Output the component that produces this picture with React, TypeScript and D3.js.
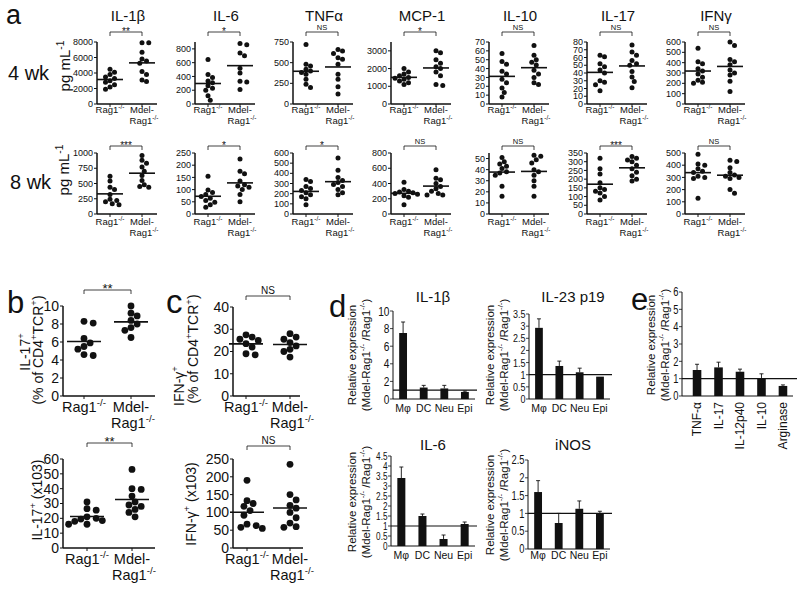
import React from "react";
import * as d3 from "d3";

const FONT = "'Liberation Sans', Arial, Helvetica, sans-serif";
const INK = "#111";

// ---- panel a : serum cytokines, 4 wk and 8 wk ----
const cytokines = ["IL-1β", "IL-6", "TNFα", "MCP-1", "IL-10", "IL-17", "IFNγ"];
const groups = ["Rag1", "Mdel"];

const rag4wk = [
  [4500, 4100, 3800, 3500, 3300, 3000, 2800, 2500, 2200, 1900],
  [646, 430, 385, 335, 310, 265, 230, 200, 120, 55],
  [720, 480, 460, 420, 400, 380, 360, 300, 240, 200],
  [2000, 1800, 1700, 1600, 1500, 1450, 1400, 1300, 1200, 1100],
  [57, 48, 45, 37, 34, 28, 24, 18, 13, 8],
  [63, 61, 52, 48, 44, 40, 30, 28, 25, 17],
  [540, 410, 390, 340, 320, 290, 260, 230, 210, 200],
];
const mdel4wk = [
  [7900, 7900, 6670, 5800, 5550, 5250, 4200, 3800, 3100, 2900],
  [880, 860, 740, 700, 520, 450, 330, 320, 210],
  [660, 640, 610, 560, 540, 480, 360, 300, 210, 120],
  [3000, 2900, 2500, 2300, 2100, 2000, 1800, 1600, 1100, 1050],
  [66, 55, 50, 47, 44, 38, 34, 30, 24, 22],
  [76, 67, 63, 56, 52, 50, 42, 35, 29, 21],
  [600, 565, 430, 410, 380, 330, 300, 280, 220, 120],
];
const rag8wk = [
  [620, 540, 440, 400, 320, 240, 220, 200, 170, 150],
  [155, 98, 88, 80, 72, 65, 55, 48, 38, 28],
  [340, 320, 270, 250, 230, 210, 190, 170, 150, 90],
  [415, 320, 300, 290, 280, 270, 260, 240, 220, 120],
  [51, 47, 45, 43, 41, 38, 37, 35, 25, 16],
  [320, 260, 230, 180, 150, 140, 130, 120, 100, 80],
  [490, 410, 400, 370, 350, 340, 310, 300, 290, 130],
];
const mdel8wk = [
  [960, 880, 830, 770, 700, 630, 550, 480, 450, 440],
  [225, 175, 165, 135, 120, 115, 110, 100, 80, 50],
  [550, 430, 360, 330, 310, 290, 270, 240, 210, 190],
  [580, 470, 450, 400, 360, 330, 300, 270, 250, 250],
  [53, 52, 49, 46, 40, 38, 35, 30, 25, 16],
  [330, 320, 310, 300, 280, 260, 240, 220, 200, 190],
  [440, 430, 380, 340, 320, 310, 300, 290, 200, 170],
];
const max4wk = [8000, 900, 750, 3500, 70, 80, 600];
const max8wk = [1000, 250, 600, 800, 55, 350, 500];
const ticks4wk = [
  [0, 2000, 4000, 6000, 8000],
  [0, 200, 400, 600, 800],
  [0, 250, 500, 750],
  [0, 1000, 2000, 3000],
  [0, 10, 20, 30, 40, 50, 60, 70],
  [0, 10, 20, 30, 40, 50, 60, 70, 80],
  [0, 100, 200, 300, 400, 500, 600],
];
const ticks8wk = [
  [0, 250, 500, 750, 1000],
  [0, 50, 100, 150, 200, 250],
  [0, 100, 200, 300, 400, 500, 600],
  [0, 200, 400, 600, 800],
  [0, 10, 20, 30, 40, 50],
  [0, 50, 100, 150, 200, 250, 300, 350],
  [0, 100, 200, 300, 400, 500],
];
const sig4wk = ["**", "*", "NS", "*", "NS", "NS", "NS"];
const sig8wk = ["***", "*", "*", "NS", "NS", "***", "NS"];

// ---- panels b, c : lamina propria T cells ----
const il17PctRag = [8.3, 8.1, 6.4, 5.9, 5.5, 5.2, 4.6, 4.5];
const il17PctMdel = [10, 9.2, 8.9, 8.4, 8.0, 7.6, 7.3, 6.5];
const il17NumRag = [31, 26.5, 25.5, 21, 20, 19.5, 18.5, 18, 16, 16];
const il17NumMdel = [53, 40, 39.5, 35, 31, 29, 28, 26, 24, 21];
const ifnPctRag = [27.5, 26.5, 25.5, 25, 23.5, 22, 19, 18.5];
const ifnPctMdel = [28, 26.5, 25.5, 24, 22.5, 21, 20, 17.5];
const ifnNumRag = [190, 133, 125, 117, 105, 92, 67, 63, 58, 55];
const ifnNumMdel = [235, 150, 135, 120, 112, 100, 85, 70, 60, 58];

// ---- panel d : relative expression by cell type ----
const cellTypes = ["Mφ", "DC", "Neu", "Epi"];
const il1bRel = [7.5, 1.3, 1.2, 0.8];
const il1bErr = [1.25, 0.25, 0.35, 0.1];
const il23Rel = [2.93, 1.36, 1.1, 0.92];
const il23Err = [0.37, 0.2, 0.17, 0];
const il6Rel = [3.4, 1.5, 0.35, 1.1];
const il6Err = [0.55, 0.1, 0.2, 0.1];
const inosRel = [1.6, 0.73, 1.13, 1.0];
const inosErr = [0.32, 0.27, 0.22, 0.06];

// ---- panel e ----
const eGenes = ["TNF-α", "IL-17", "IL-12p40", "IL-10", "Arginase"];
const eRel = [1.5, 1.65, 1.4, 1.0, 0.58];
const eErr = [0.33, 0.3, 0.15, 0.28, 0.06];

// superscript helper: parts = [text, isSup]
function rich(parts: [string, boolean][], size: number) {
  let up = false;
  return parts.map(([t, s], i) => {
    const dy = s && !up ? -size * 0.4 : !s && up ? size * 0.4 : 0;
    up = s;
    return (
      <tspan key={i} dy={dy} fontSize={s ? size * 0.68 : size}>
        {t}
      </tspan>
    );
  });
}

const RAG: [string, boolean][] = [["Rag1", false], ["-/-", true]];
const RATIO: [string, boolean][] = [["(Mdel-Rag1", false], ["-/-", true], [" /Rag1", false], ["-/-", true], [")", false]];

function swarm(vals: number[], y: (v: number) => number, cx: number, r: number) {
  const pts = vals.map((v) => ({ v, py: y(v), px: cx }));
  const order = pts.slice().sort((a, b) => b.v - a.v);
  const placed: { px: number; py: number }[] = [];
  for (const p of order) {
    for (let k = 0; k < 40; k++) {
      const off = (k % 2 === 1 ? 1 : -1) * Math.ceil(k / 2) * r * 0.9;
      const px = cx + off;
      if (placed.every((q) => Math.hypot(q.px - px, q.py - p.py) >= 2 * r * 0.95)) {
        p.px = px;
        break;
      }
    }
    placed.push(p);
  }
  return pts;
}

type DotProps = {
  rag: number[];
  mdel: number[];
  axisX: number;
  cx: [number, number];
  axisEnd: number;
  y0: number;
  y1: number;
  max: number;
  ticks: number[];
  sig: string;
  bracketY: number;
  r: number;
  meanW: number;
  tickFont: number;
  labelFont: number;
  labelY: [number, number];
  starFont: number;
  nsFont: number;
  sw: number;
};

function DotPlot(p: DotProps) {
  const x = d3.scalePoint<string>().domain(groups).range(p.cx);
  const y = d3.scaleLinear().domain([0, p.max]).range([p.y0, p.y1]);
  const sets = [p.rag, p.mdel];
  const x0 = x("Rag1")!;
  const x1 = x("Mdel")!;
  const ns = p.sig === "NS";
  return (
    <g>
      <line x1={p.axisX} x2={p.axisX} y1={y(0)} y2={y(p.max)} stroke={INK} strokeWidth={p.sw} />
      <line x1={p.axisX} x2={p.axisEnd} y1={y(0)} y2={y(0)} stroke={INK} strokeWidth={p.sw} />
      {p.ticks.map((t) => (
        <g key={t}>
          <line x1={p.axisX - 3} x2={p.axisX} y1={y(t)} y2={y(t)} stroke={INK} strokeWidth={1} />
          <text x={p.axisX - 4} y={y(t)} dy="0.35em" textAnchor="end" fontSize={p.tickFont}>
            {t}
          </text>
        </g>
      ))}
      {groups.map((g) => (
        <line key={g} x1={x(g)} x2={x(g)} y1={y(0)} y2={y(0) + 3} stroke={INK} strokeWidth={1} />
      ))}
      <text x={x0} y={p.labelY[0]} textAnchor="middle" fontSize={p.labelFont}>
        {rich(RAG, p.labelFont)}
      </text>
      <text x={x1} y={p.labelY[0]} textAnchor="middle" fontSize={p.labelFont}>
        Mdel-
      </text>
      <text x={x1 + 2} y={p.labelY[1]} textAnchor="middle" fontSize={p.labelFont}>
        {rich(RAG, p.labelFont)}
      </text>
      <path
        d={`M${x0},${p.bracketY + 4}V${p.bracketY}H${x1}V${p.bracketY + 4}`}
        fill="none"
        stroke={INK}
        strokeWidth={0.8}
      />
      <text
        x={(x0 + x1) / 2}
        y={ns ? p.bracketY - 2 : p.bracketY + p.starFont * 0.25}
        textAnchor="middle"
        fontSize={ns ? p.nsFont : p.starFont}
      >
        {p.sig}
      </text>
      {sets.map((vals, gi) => {
        const cx = x(groups[gi])!;
        const m = d3.mean(vals)!;
        return (
          <g key={gi}>
            {swarm(vals, y, cx, p.r).map((d, i) => (
              <circle key={i} cx={d.px} cy={d.py} r={p.r} fill={INK} />
            ))}
            <line x1={cx - p.meanW / 2} x2={cx + p.meanW / 2} y1={y(m)} y2={y(m)} stroke={INK} strokeWidth={1.6} />
          </g>
        );
      })}
    </g>
  );
}

type BarProps = {
  cats: string[];
  vals: number[];
  errs: number[];
  range: [number, number];
  pIn: number;
  pOut: number;
  axisEnd: number;
  lineEnd: number;
  y0: number;
  y1: number;
  max: number;
  ticks: number[];
  tickFont: number;
  catFont: number;
  catY: number;
  rotate?: boolean;
};

function BarPlot(p: BarProps) {
  const x = d3.scaleBand<string>().domain(p.cats).range(p.range).paddingInner(p.pIn).paddingOuter(p.pOut);
  const y = d3.scaleLinear().domain([0, p.max]).range([p.y0, p.y1]);
  const ax = p.range[0];
  const bw = x.bandwidth();
  return (
    <g>
      {p.cats.map((c, i) => {
        const cx = x(c)! + bw / 2;
        const top = y(p.vals[i] + p.errs[i]);
        return (
          <g key={c}>
            <rect x={x(c)} y={y(p.vals[i])} width={bw} height={y(0) - y(p.vals[i])} fill={INK} />
            {p.errs[i] > 0 && (
              <>
                <line x1={cx} x2={cx} y1={y(p.vals[i])} y2={top} stroke={INK} strokeWidth={0.9} />
                <line x1={cx - 2} x2={cx + 2} y1={top} y2={top} stroke={INK} strokeWidth={0.9} />
              </>
            )}
            {p.rotate ? (
              <text
                transform={`translate(${cx + p.catFont * 0.36},${p.catY}) rotate(-90)`}
                textAnchor="end"
                fontSize={p.catFont}
              >
                {c}
              </text>
            ) : (
              <text x={cx} y={p.catY} textAnchor="middle" fontSize={p.catFont}>
                {c}
              </text>
            )}
          </g>
        );
      })}
      <line x1={ax} x2={ax} y1={y(0)} y2={y(p.max)} stroke={INK} strokeWidth={1} />
      <line x1={ax} x2={p.axisEnd} y1={y(0)} y2={y(0)} stroke={INK} strokeWidth={1} />
      <line x1={ax} x2={p.lineEnd} y1={y(1)} y2={y(1)} stroke={INK} strokeWidth={1.2} />
      {p.ticks.map((t) => (
        <g key={t}>
          <line x1={ax - 3} x2={ax} y1={y(t)} y2={y(t)} stroke={INK} strokeWidth={0.8} />
          {/* tick labels in the source are horizontally condensed */}
          <text
            transform={`translate(${ax - 3.5},${y(t)}) scale(0.78,1)`}
            dy="0.35em"
            textAnchor="end"
            fontSize={p.tickFont}
          >
            {t}
          </text>
        </g>
      ))}
    </g>
  );
}

function VLabel({ x, y, size, children }: { x: number; y: number; size: number; children: React.ReactNode }) {
  return (
    <text transform={`translate(${x},${y}) rotate(-90)`} textAnchor="middle" fontSize={size}>
      {children}
    </text>
  );
}

export default function App() {
  const col = d3.scalePoint<string>().domain(cytokines).range([110, 698]);
  const rows = [
    { rag: rag4wk, mdel: mdel4wk, max: max4wk, ticks: ticks4wk, sig: sig4wk, y0: 104, y1: 42, br: 32, lab: [112.5, 123.5] as [number, number] },
    { rag: rag8wk, mdel: mdel8wk, max: max8wk, ticks: ticks8wk, sig: sig8wk, y0: 214, y1: 153, br: 146, lab: [224.5, 235.5] as [number, number] },
  ];
  const b = { tick: 14, lab: 14.5, r: 3.4, meanW: 34 };
  return (
    <svg
      width={800}
      height={590}
      style={{ position: "absolute", left: 0, top: 0, background: "#fff" }}
      fontFamily={FONT}
      fill={INK}
    >
      <rect width={800} height={590} fill="#fff" />
      {/* panel a */}
      <text x={6} y={24} fontSize={27}>a</text>
      <text x={8} y={80} fontSize={20}>4 wk</text>
      <text x={10} y={189} fontSize={20}>8 wk</text>
      <VLabel x={70} y={66} size={15}>{rich([["pg mL", false], ["-1", true]], 15)}</VLabel>
      <VLabel x={69} y={170} size={15}>{rich([["pg mL", false], ["-1", true]], 15)}</VLabel>
      {cytokines.map((c) => (
        <text key={c} x={col(c)! + 18} y={21} textAnchor="middle" fontSize={15}>
          {c}
        </text>
      ))}
      {rows.map((row, ri) =>
        cytokines.map((c, i) => {
          const cx = col(c)!;
          return (
            <DotPlot
              key={ri + c}
              rag={row.rag[i]}
              mdel={row.mdel[i]}
              axisX={cx - 13}
              cx={[cx, cx + 32]}
              axisEnd={cx + 47}
              y0={row.y0}
              y1={row.y1}
              max={row.max[i]}
              ticks={row.ticks[i]}
              sig={row.sig[i]}
              bracketY={row.br}
              r={2.5}
              meanW={26}
              tickFont={9}
              labelFont={9.5}
              labelY={row.lab}
              starFont={10}
              nsFont={7.5}
              sw={1.5}
            />
          );
        })
      )}

      {/* panel b */}
      <text x={7} y={313} fontSize={31}>b</text>
      <VLabel x={30} y={352} size={14}>{rich([["IL-17", false], ["+", true]], 14)}</VLabel>
      <VLabel x={43} y={350} size={14}>
        {rich([["(% of CD4", false], ["+", true], ["TCR", false], ["+", true], [")", false]], 14)}
      </VLabel>
      <VLabel x={42} y={500} size={14}>
        {rich([["IL-17", false], ["+", true], [" (x103)", false]], 14)}
      </VLabel>
      <DotPlot
        rag={il17PctRag} mdel={il17PctMdel} axisX={63} cx={[84, 131]} axisEnd={155}
        y0={396} y1={306} max={10} ticks={[0, 2, 4, 6, 8, 10]} sig="**" bracketY={290}
        r={b.r} meanW={b.meanW} tickFont={b.tick} labelFont={b.lab} labelY={[412, 428]}
        starFont={13} nsFont={10} sw={1.5}
      />
      <DotPlot
        rag={il17NumRag} mdel={il17NumMdel} axisX={63} cx={[87, 132]} axisEnd={155}
        y0={548} y1={459} max={60} ticks={[0, 10, 20, 30, 40, 50, 60]} sig="**" bracketY={443}
        r={b.r} meanW={b.meanW} tickFont={b.tick} labelFont={b.lab} labelY={[564, 580]}
        starFont={13} nsFont={10} sw={1.5}
      />

      {/* panel c */}
      <text x={166} y={313} fontSize={33}>c</text>
      <VLabel x={184} y={386} size={14}>{rich([["IFN-γ", false], ["+", true]], 14)}</VLabel>
      <VLabel x={198} y={349} size={14}>
        {rich([["(% of CD4", false], ["+", true], ["TCR", false], ["+", true], [")", false]], 14)}
      </VLabel>
      <VLabel x={196} y={504} size={14}>
        {rich([["IFN-γ", false], ["+", true], [" (x103)", false]], 14)}
      </VLabel>
      <DotPlot
        rag={ifnPctRag} mdel={ifnPctMdel} axisX={233} cx={[246, 290]} axisEnd={300}
        y0={396} y1={307} max={40} ticks={[0, 10, 20, 30, 40]} sig="NS" bracketY={296}
        r={b.r} meanW={b.meanW} tickFont={b.tick} labelFont={b.lab} labelY={[412, 428]}
        starFont={13} nsFont={10} sw={1.5}
      />
      <DotPlot
        rag={ifnNumRag} mdel={ifnNumMdel} axisX={233} cx={[247, 290]} axisEnd={303}
        y0={548} y1={459} max={250} ticks={[0, 50, 100, 150, 200, 250]} sig="NS" bracketY={446}
        r={b.r} meanW={b.meanW} tickFont={b.tick} labelFont={b.lab} labelY={[564, 580]}
        starFont={13} nsFont={10} sw={1.5}
      />

      {/* panel d */}
      <text x={329} y={317} fontSize={31}>d</text>
      <text x={433} y={302} textAnchor="middle" fontSize={15}>IL-1β</text>
      <text x={573} y={302} textAnchor="middle" fontSize={15}>IL-23 p19</text>
      <text x={433} y={450} textAnchor="middle" fontSize={15}>IL-6</text>
      <text x={573} y={450} textAnchor="middle" fontSize={15}>iNOS</text>
      {[
        [356, 370, 355],
        [494, 508, 355],
        [356, 370, 502],
        [494, 508, 505],
      ].map(([xa, xb, yc], i) => (
        <g key={i}>
          <VLabel x={xa} y={yc} size={11.5}>Relative expression</VLabel>
          <VLabel x={xb} y={yc} size={11.5}>{rich(RATIO, 11.5)}</VLabel>
        </g>
      ))}
      <BarPlot
        cats={cellTypes} vals={il1bRel} errs={il1bErr} range={[393, 475]} pIn={0.62} pOut={0.3}
        axisEnd={475} lineEnd={477} y0={399} y1={311} max={10} ticks={[0, 2, 4, 6, 8, 10]}
        tickFont={13} catFont={10.5} catY={412}
      />
      <BarPlot
        cats={cellTypes} vals={il23Rel} errs={il23Err} range={[529, 610]} pIn={0.62} pOut={0.3}
        axisEnd={610} lineEnd={612} y0={399} y1={314} max={3.5} ticks={[0, 0.5, 1, 1.5, 2, 2.5, 3, 3.5]}
        tickFont={11.5} catFont={10.5} catY={412}
      />
      <BarPlot
        cats={cellTypes} vals={il6Rel} errs={il6Err} range={[391, 475]} pIn={0.62} pOut={0.3}
        axisEnd={475} lineEnd={477} y0={546} y1={456} max={4.5} ticks={[0, 0.5, 1, 1.5, 2, 2.5, 3, 3.5, 4, 4.5]}
        tickFont={10.5} catFont={10.5} catY={559}
      />
      <BarPlot
        cats={cellTypes} vals={inosRel} errs={inosErr} range={[528, 610]} pIn={0.62} pOut={0.3}
        axisEnd={610} lineEnd={612} y0={549} y1={460} max={2.5} ticks={[0, 0.5, 1, 1.5, 2, 2.5]}
        tickFont={12} catFont={10.5} catY={559}
      />

      {/* panel e */}
      <text x={631} y={310} fontSize={31}>e</text>
      <VLabel x={655} y={345} size={11.5}>Relative expression</VLabel>
      <VLabel x={669} y={345} size={11.5}>{rich(RATIO, 11.5)}</VLabel>
      <BarPlot
        cats={eGenes} vals={eRel} errs={eErr} range={[682, 798]} pIn={0.6} pOut={0.5}
        axisEnd={793} lineEnd={797} y0={396} y1={292} max={6} ticks={[0, 1, 2, 3, 4, 5, 6]}
        tickFont={12} catFont={12} catY={402} rotate
      />
    </svg>
  );
}
